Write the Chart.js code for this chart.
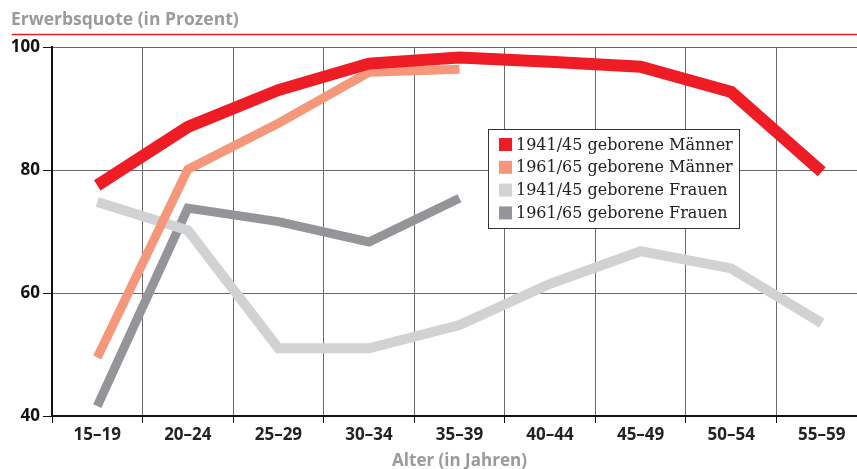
<!DOCTYPE html>
<html><head><meta charset="utf-8">
<script src="https://cdn.jsdelivr.net/npm/chart.js@4/dist/chart.umd.min.js"></script>
<style>
html,body{margin:0;padding:0;background:#fff;overflow:hidden;}
#wrap{width:857px;height:469px;overflow:hidden;position:relative;}
canvas{display:block;}
</style></head><body>
<div id="wrap"><canvas id="c" width="870" height="469"></canvas></div>
<script>
const categories = ['15–19','20–24','25–29','30–34','35–39','40–44','45–49','50–54','55–59'];
const seriesLabels = ['1941/45 geborene Männer','1961/65 geborene Männer','1941/45 geborene Frauen','1961/65 geborene Frauen'];
const men4145   = [77.5, 87.0, 93.0, 97.3, 98.3, 97.6, 96.8, 92.7, 79.7];
const men6165   = [49.5, 80.1, 87.6, 95.9, 96.4, null, null, null, null];
const women4145 = [74.8, 70.2, 51.0, 51.0, 54.8, 61.5, 66.8, 64.0, 55.1];
const women6165 = [41.6, 73.8, 71.6, 68.3, 75.4, null, null, null, null];
const yTicks = [40, 60, 80, 100];
const chartTitle = 'Erwerbsquote (in Prozent)';
const xTitle = 'Alter (in Jahren)';
const colors = ['#ee1c25', '#f5977a', '#d1d2d4', '#939598'];
const widths = [12, 9, 10, 9];

const seriesData = [men4145, men6165, women4145, women6165];

const decor = {
  id: 'decor',
  afterDraw(chart) {
    const ctx = chart.ctx;
    ctx.save();
    // title
    ctx.font = 'bold 17.5px "Open Sans"';
    ctx.fillStyle = '#9a9a9a';
    ctx.textBaseline = 'middle';
    ctx.textAlign = 'left';
    ctx.fillText(chartTitle, 11, 20);
    ctx.strokeStyle = '#e8202a';
    ctx.lineWidth = 1.5;
    ctx.beginPath(); ctx.moveTo(12, 34.5); ctx.lineTo(870, 34.5); ctx.stroke();
    // legend
    const bx = 488.5, by = 129.5, bw = 251, bh = 99;
    ctx.fillStyle = '#fff';
    ctx.fillRect(bx, by, bw, bh);
    ctx.strokeStyle = '#333';
    ctx.lineWidth = 1;
    ctx.strokeRect(bx, by, bw, bh);
    ctx.font = '16px "DejaVu Serif"';
    chart.data.datasets.forEach((ds, i) => {
      const cy = 144.5 + i * 22.8;
      ctx.fillStyle = ds.borderColor;
      ctx.fillRect(499, cy - 6.5, 13, 13);
      ctx.fillStyle = '#222';
      ctx.textBaseline = 'middle';
      ctx.fillText(ds.label, 516, cy + 1);
    });
    ctx.restore();
  }
};

new Chart(document.getElementById('c'), {
  type: 'line',
  data: {
    labels: categories,
    datasets: seriesData.map((d, i) => ({
      label: seriesLabels[i],
      data: d,
      borderColor: colors[i],
      backgroundColor: colors[i],
      borderWidth: widths[i],
      pointRadius: 0,
      tension: 0,
      borderCapStyle: 'butt',
      borderJoinStyle: 'miter',
      spanGaps: false,
      fill: false
    }))
  },
  options: {
    responsive: false,
    animation: false,
    layout: { padding: { top: 47, left: 0, right: 3, bottom: 0 } },
    plugins: { legend: { display: false }, tooltip: { enabled: false }, title: { display: false } },
    scales: {
      x: {
        type: 'category',
        offset: true,
        grid: { offset: true, color: '#6a6a6a', lineWidth: 1, tickColor: '#111', tickLength: 7, drawTicks: true },
        border: { display: true, color: '#111', width: 2 },
        ticks: { color: '#222', font: { family: 'Open Sans', weight: 'bold', size: 17 }, padding: 2, maxRotation: 0, autoSkip: false },
        title: { display: true, text: xTitle, color: '#9a9a9a', font: { family: 'Open Sans', weight: 'bold', size: 17 }, padding: { top: 0, bottom: -2 } },
        afterFit(s) { s.height = 53; }
      },
      y: {
        min: 40, max: 100,
        afterBuildTicks(s) { s.ticks = yTicks.map(v => ({ value: v })); },
        grid: { color: '#6a6a6a', lineWidth: 1, tickColor: '#111', tickLength: 9, drawTicks: true },
        border: { display: true, color: '#111', width: 2 },
        ticks: { color: '#111', font: { family: 'Open Sans', weight: 'bold', size: 17 }, padding: 3 },
        afterFit(s) { s.width = 52; }
      }
    }
  },
  plugins: [decor]
});
</script>
</body></html>
